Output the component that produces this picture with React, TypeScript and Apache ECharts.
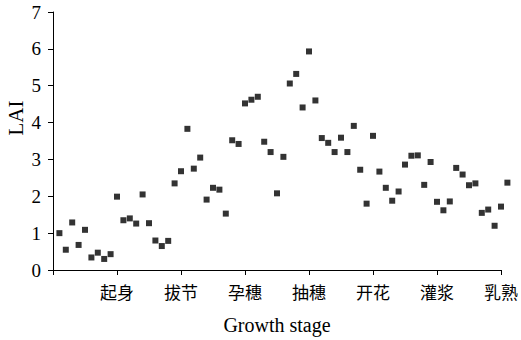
import React, { useEffect, useRef } from "react";
import * as echarts from "echarts";

const stageLabels = ["起身", "拔节", "孕穗", "抽穗", "开花", "灌浆", "乳熟"];
const yTicks = [0, 1, 2, 3, 4, 5, 6, 7];
const laiValues = [
  1.0, 0.55, 1.29, 0.68, 1.09, 0.34, 0.47, 0.3, 0.43, 1.99,
  1.35, 1.4, 1.26, 2.05, 1.27, 0.8, 0.65, 0.79, 2.35, 2.68,
  3.83, 2.75, 3.05, 1.91, 2.23, 2.18, 1.53, 3.52, 3.42, 4.52,
  4.62, 4.7, 3.48, 3.2, 2.08, 3.07, 5.06, 5.32, 4.41, 5.93,
  4.6, 3.58, 3.45, 3.2, 3.59, 3.2, 3.91, 2.72, 1.8, 3.64,
  2.67, 2.23, 1.88, 2.13, 2.86, 3.1, 3.11, 2.31, 2.93, 1.85,
  1.62, 1.86, 2.77, 2.59, 2.3, 2.35, 1.55, 1.64, 1.2, 1.72,
  2.37,
];

const FONT = "'Times New Roman', 'Liberation Serif', 'Noto Sans CJK SC', serif";

export default function App() {
  const ref = useRef<HTMLDivElement>(null);
  useEffect(() => {
    document.body.style.margin = "0";
    if (!ref.current) return;
    const chart = echarts.init(ref.current, null, { renderer: "svg" });
    const data = laiValues.map((v, i) => [i + 1, v]);
    chart.setOption({
      animation: false,
      grid: { left: 53, top: 12, right: 15, bottom: 67, containLabel: false },
      xAxis: {
        type: "value",
        min: 0,
        max: 70,
        interval: 10,
        name: "Growth stage",
        nameLocation: "middle",
        nameGap: 45,
        nameTextStyle: { fontFamily: FONT, fontSize: 20, color: "#000" },
        axisLine: { show: true, lineStyle: { color: "#000", width: 1 } },
        axisTick: { show: true, inside: false, length: 5, lineStyle: { color: "#000" } },
        axisLabel: {
          margin: 15,
          fontFamily: FONT,
          fontSize: 17,
          color: "#000",
          formatter: (v: number) => (v >= 10 ? stageLabels[v / 10 - 1] ?? "" : ""),
        },
        splitLine: { show: false },
      },
      yAxis: {
        type: "value",
        min: yTicks[0],
        max: yTicks[yTicks.length - 1],
        interval: 1,
        axisLine: { show: true, lineStyle: { color: "#000", width: 1 } },
        axisTick: { show: true, inside: false, length: 5, lineStyle: { color: "#000" } },
        axisLabel: { margin: 12, fontFamily: FONT, fontSize: 19, color: "#000" },
        splitLine: { show: false },
      },
      graphic: [
        {
          type: "text",
          x: 5,
          y: 118,
          rotation: Math.PI / 2,
          style: {
            text: "LAI",
            fontFamily: FONT,
            fontSize: 21,
            fill: "#000",
            align: "center",
            verticalAlign: "top",
          },
        },
      ],
      series: [
        {
          type: "scatter",
          data,
          symbol: "rect",
          symbolSize: 6,
          clip: false,
          itemStyle: { color: "#000" },
        },
      ],
    });
    return () => chart.dispose();
  }, []);
  return <div ref={ref} style={{ width: 521, height: 340 }} />;
}
